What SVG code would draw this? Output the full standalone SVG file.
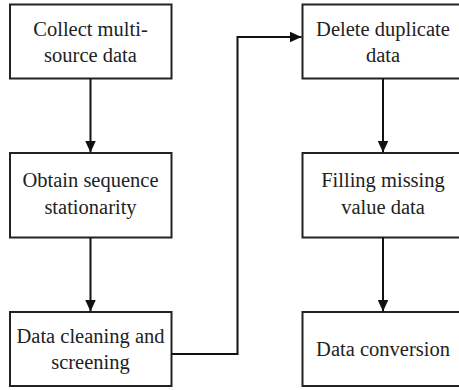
<svg xmlns="http://www.w3.org/2000/svg" width="459" height="390" viewBox="0 0 459 390">
<defs>
<marker id="ah" markerWidth="12" markerHeight="11" refX="12" refY="5.5" orient="auto" markerUnits="userSpaceOnUse">
<path d="M0,0 L12,5.5 L0,11 Z" fill="#111"/>
</marker>
<style>
.box{fill:#fff;stroke:#222;stroke-width:2}
.c{fill:none;stroke:#111;stroke-width:2}
</style>
</defs>
<rect width="459" height="390" fill="#fff"/>
<g id="n1"><rect class="box" x="10" y="4.5" width="161.5" height="74"/><text style="font-family:'Liberation Serif',serif" font-size="20.5" fill="#222" text-anchor="middle" x="90.5" y="35.5">Collect multi-</text><text style="font-family:'Liberation Serif',serif" font-size="20.5" fill="#222" text-anchor="middle" x="90.5" y="62">source data</text></g>
<g id="n2"><rect class="box" x="10" y="153" width="161.5" height="84.5"/><text style="font-family:'Liberation Serif',serif" font-size="20.5" fill="#222" text-anchor="middle" x="90.5" y="187">Obtain sequence</text><text style="font-family:'Liberation Serif',serif" font-size="20.5" fill="#222" text-anchor="middle" x="90.5" y="213.5">stationarity</text></g>
<g id="n3"><rect class="box" x="10" y="312" width="161.5" height="74"/><text style="font-family:'Liberation Serif',serif" font-size="20.5" fill="#222" text-anchor="middle" x="90.5" y="342.5">Data cleaning and</text><text style="font-family:'Liberation Serif',serif" font-size="20.5" fill="#222" text-anchor="middle" x="90.5" y="369">screening</text></g>
<g id="n4"><rect class="box" x="302.5" y="4.5" width="161.5" height="74"/><text style="font-family:'Liberation Serif',serif" font-size="20.5" fill="#222" text-anchor="middle" x="383" y="35.5">Delete duplicate</text><text style="font-family:'Liberation Serif',serif" font-size="20.5" fill="#222" text-anchor="middle" x="383" y="62">data</text></g>
<g id="n5"><rect class="box" x="302.5" y="153" width="161.5" height="84.5"/><text style="font-family:'Liberation Serif',serif" font-size="20.5" fill="#222" text-anchor="middle" x="383" y="187">Filling missing</text><text style="font-family:'Liberation Serif',serif" font-size="20.5" fill="#222" text-anchor="middle" x="383" y="213.5">value data</text></g>
<g id="n6"><rect class="box" x="302.5" y="312" width="161.5" height="74"/><text style="font-family:'Liberation Serif',serif" font-size="20.5" fill="#222" text-anchor="middle" x="383" y="355.5">Data conversion</text></g>
<g id="connectors">
<line class="c" x1="90.5" y1="78.5" x2="90.5" y2="152.5" marker-end="url(#ah)"/>
<line class="c" x1="90.5" y1="237.5" x2="90.5" y2="311.5" marker-end="url(#ah)"/>
<polyline class="c" points="171.5,354 237.5,354 237.5,37 301.5,37" marker-end="url(#ah)"/>
<line class="c" x1="383" y1="78.5" x2="383" y2="152.5" marker-end="url(#ah)"/>
<line class="c" x1="383" y1="237.5" x2="383" y2="311.5" marker-end="url(#ah)"/>
</g>
</svg>
